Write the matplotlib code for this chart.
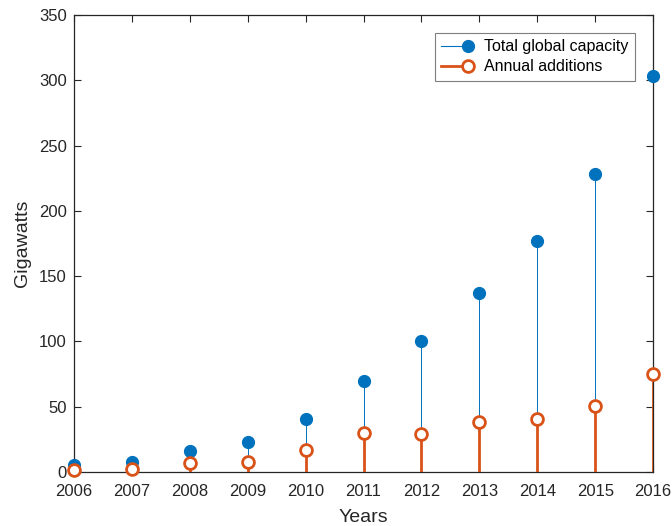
import matplotlib
matplotlib.use("Agg")
import matplotlib.pyplot as plt
from matplotlib.legend_handler import HandlerBase
from matplotlib.lines import Line2D

plt.rcParams['font.family'] = ['Liberation Sans', 'DejaVu Sans']

years = [2006, 2007, 2008, 2009, 2010, 2011, 2012, 2013, 2014, 2015, 2016]
total_capacity = [5.4, 7.7, 16, 23, 40.5, 70, 100, 137, 177, 228, 303]
annual_additions = [1.5, 2.6, 6.8, 7.8, 16.8, 30, 29, 38.3, 40.3, 50.5, 75]

blue = '#0072BD'
orange = '#D95319'


class EndMarkerHandler(HandlerBase):
    """Legend entry: a stem line with its marker at the right end."""
    def create_artists(self, legend, orig_handle, xdescent, ydescent,
                       width, height, fontsize, trans):
        y = 0.5 * height - ydescent
        line = Line2D([-xdescent, -xdescent + width], [y, y])
        line.update_from(orig_handle)
        line.set_marker('None')
        marker = Line2D([-xdescent + width], [y])
        marker.update_from(orig_handle)
        marker.set_linestyle('None')
        for a in (line, marker):
            a.set_transform(trans)
        return [line, marker]


fig = plt.figure(figsize=(6.72, 5.26), dpi=100)
ax = fig.add_axes([0.110, 0.1027, 0.862, 0.8688])

ax.vlines(years, 0, total_capacity, color=blue, linewidth=0.7, zorder=2)
ax.plot(years, total_capacity, 'o', color=blue, markersize=8.5, zorder=3,
        clip_on=False)
ax.vlines(years, 0, annual_additions, color=orange, linewidth=2.0, zorder=4)
ax.plot(years, annual_additions, 'o', markerfacecolor='white',
        markeredgecolor=orange, markeredgewidth=2.0, markersize=8.5, zorder=5,
        clip_on=False)

ax.set_xlim(2006, 2016)
ax.set_ylim(0, 350)
ax.set_xticks(years)
ax.set_yticks(range(0, 351, 50))

ax.tick_params(direction='in', top=True, right=True, length=5, width=0.8,
               labelsize=12, colors='#262626')
ax.tick_params(axis='x', pad=9)
ax.tick_params(axis='y', pad=5)
for s in ax.spines.values():
    s.set_linewidth(0.9)
    s.set_color('#262626')

ax.set_xlabel('Years', fontsize=14, color='#262626', labelpad=7)
ax.set_ylabel('Gigawatts', fontsize=14, color='#262626', labelpad=6)

h1 = Line2D([], [], color=blue, linewidth=0.8, marker='o', markersize=8.5)
h2 = Line2D([], [], color=orange, linewidth=2.0, marker='o', markersize=8.5,
            markerfacecolor='white', markeredgecolor=orange, markeredgewidth=2.0)
leg = ax.legend([h1, h2], ['Total global capacity', 'Annual additions'],
                loc='upper right', bbox_to_anchor=(0.969, 0.9606),
                borderaxespad=0,
                handler_map={Line2D: EndMarkerHandler()},
                fontsize=11.5, fancybox=False, framealpha=1, edgecolor='#7f7f7f',
                handlelength=1.7, handletextpad=1.0, borderpad=0.4,
                labelspacing=0.3)
leg.get_frame().set_linewidth(0.8)

fig.savefig('out.png', dpi=100)
